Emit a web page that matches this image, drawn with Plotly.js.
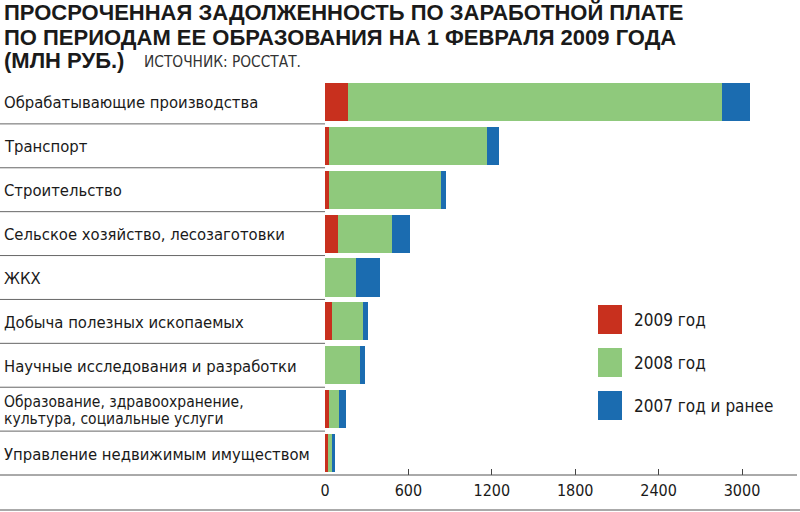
<!DOCTYPE html>
<html>
<head>
<meta charset="utf-8">
<script src="https://cdn.plot.ly/plotly-3.0.1.min.js"></script>
<style>html,body{margin:0;padding:0;background:#fff;}#chart{width:800px;height:512px;}</style>
</head>
<body>
<div id="chart"></div>
<script>
const categories = [
  "Обрабатывающие производства",
  "Транспорт",
  "Строительство",
  "Сельское хозяйство, лесозаготовки",
  "ЖКХ",
  "Добыча полезных ископаемых",
  "Научные исследования и разработки",
  "Образование, здравоохранение,<br>культура, социальные услуги",
  "Управление недвижимым имуществом"
];
const v2009 = [166, 29, 29, 96, 0, 48, 0, 31, 20];
const v2008 = [2690, 1140, 804, 384, 221, 223, 252, 70, 32];
const v2007 = [202, 83, 36, 132, 175, 38, 36, 50, 17];
const seriesNames = ["2009 год", "2008 год", "2007 год и ранее"];
const seriesColors = ["#c8301e", "#8fc97c", "#1b6cb0"];
const tickVals = [0, 600, 1200, 1800, 2400, 3000];
const tickText = ["0", "600", "1200", "1800", "2400", "3000"];
const titleLines = [
  "ПРОСРОЧЕННАЯ ЗАДОЛЖЕННОСТЬ ПО ЗАРАБОТНОЙ ПЛАТЕ",
  "ПО ПЕРИОДАМ ЕЕ ОБРАЗОВАНИЯ НА 1 ФЕВРАЛЯ 2009 ГОДА",
  "(МЛН РУБ.)"
];
const sourceText = "ИСТОЧНИК: РОССТАТ.";

const NARROW = "'Liberation Sans Narrow', 'DejaVu Sans Condensed', 'Arial Narrow', sans-serif";
const BOLD = "'Liberation Sans', Arial, sans-serif";

// geometry (px) -> paper helpers
const L = 325, R = 20, T = 80, B = 37, W = 800, H = 512;
const PW = W - L - R, PH = H - T - B;
const px2x = p => (p - L) / PW;
const px2y = p => (H - B - p) / PH;

const vals = [v2009, v2008, v2007];
const traces = vals.map((v, k) => ({
  type: "bar",
  orientation: "h",
  y: categories.map((c, i) => i),
  x: v,
  name: seriesNames[k],
  marker: {color: seriesColors[k], line: {width: 0}},
  showlegend: false,
  hoverinfo: "x+name"
}));

const annotations = [];
const shapes = [];

// title lines
const titleY = [12.5, 37, 61];
titleLines.forEach((t, i) => {
  annotations.push({
    xref: "paper", yref: "paper", x: px2x(2), y: px2y(titleY[i]),
    xanchor: "left", yanchor: "middle", showarrow: false,
    text: "<b>" + t + "</b>",
    font: {family: BOLD, size: 22, color: "#1a1a1a"}
  });
});
annotations.push({
  xref: "paper", yref: "paper", x: px2x(142), y: px2y(62),
  xanchor: "left", yanchor: "middle", showarrow: false,
  text: sourceText, font: {family: NARROW, size: 15.3, color: "#333"}
});

// category labels (left aligned)
categories.forEach((c, i) => {
  const parts = c.split("<br>");
  const n = parts.length;
  parts.forEach((p, j) => {
    annotations.push({
      xref: "paper", yref: "y", x: px2x(2), y: i,
      yshift: (n - 1) * 8.5 - j * 17 - 1,
      xanchor: "left", yanchor: "middle", showarrow: false,
      text: p, font: {family: NARROW, size: n > 1 ? 15.5 : 16.5, color: "#1a1a1a"}
    });
  });
});

// separators between rows
for (let i = 0; i < categories.length - 1; i++) {
  shapes.push({type: "line", xref: "paper", yref: "y",
    x0: px2x(0), x1: 0, y0: i + 0.5, y1: i + 0.5,
    line: {color: "#666", width: 1}});
}
// bottom axis line and bottom border
shapes.push({type: "line", xref: "paper", yref: "paper",
  x0: px2x(0), x1: px2x(797), y0: 0, y1: 0, line: {color: "#555", width: 1}});
shapes.push({type: "line", xref: "paper", yref: "paper",
  x0: px2x(0), x1: px2x(800), y0: px2y(510), y1: px2y(510), line: {color: "#555", width: 1}});

// legend swatches
const legTop = [305, 348, 391];
seriesNames.forEach((n, k) => {
  shapes.push({type: "rect", xref: "paper", yref: "paper",
    x0: px2x(598), x1: px2x(622), y0: px2y(legTop[k]), y1: px2y(legTop[k] + 29),
    fillcolor: seriesColors[k], line: {width: 0}});
  annotations.push({
    xref: "paper", yref: "paper", x: px2x(632), y: px2y(legTop[k] + 15),
    xanchor: "left", yanchor: "middle", showarrow: false,
    text: n, font: {family: NARROW, size: 17, color: "#1a1a1a"}
  });
});

const layout = {
  width: W, height: H,
  margin: {l: L, r: R, t: T, b: B, pad: 0},
  paper_bgcolor: "#fff", plot_bgcolor: "#fff",
  barmode: "stack",
  bargap: 0.13,
  showlegend: false,
  xaxis: {
    range: [0, PW / (417 / 3000)],
    tickvals: tickVals, ticktext: tickText,
    ticks: "inside", ticklen: 6, tickcolor: "#444", tickwidth: 1,
    ticklabelstandoff: 4,
    showgrid: false, zeroline: false, showline: false,
    tickfont: {family: NARROW, size: 16, color: "#1a1a1a"},
    fixedrange: true
  },
  yaxis: {
    range: [categories.length - 0.5, -0.5],
    showticklabels: false, ticks: "", showgrid: false,
    zeroline: false, showline: false, fixedrange: true
  },
  annotations: annotations,
  shapes: shapes
};

Plotly.newPlot("chart", traces, layout, {displayModeBar: false, staticPlot: true});
</script>
</body>
</html>
